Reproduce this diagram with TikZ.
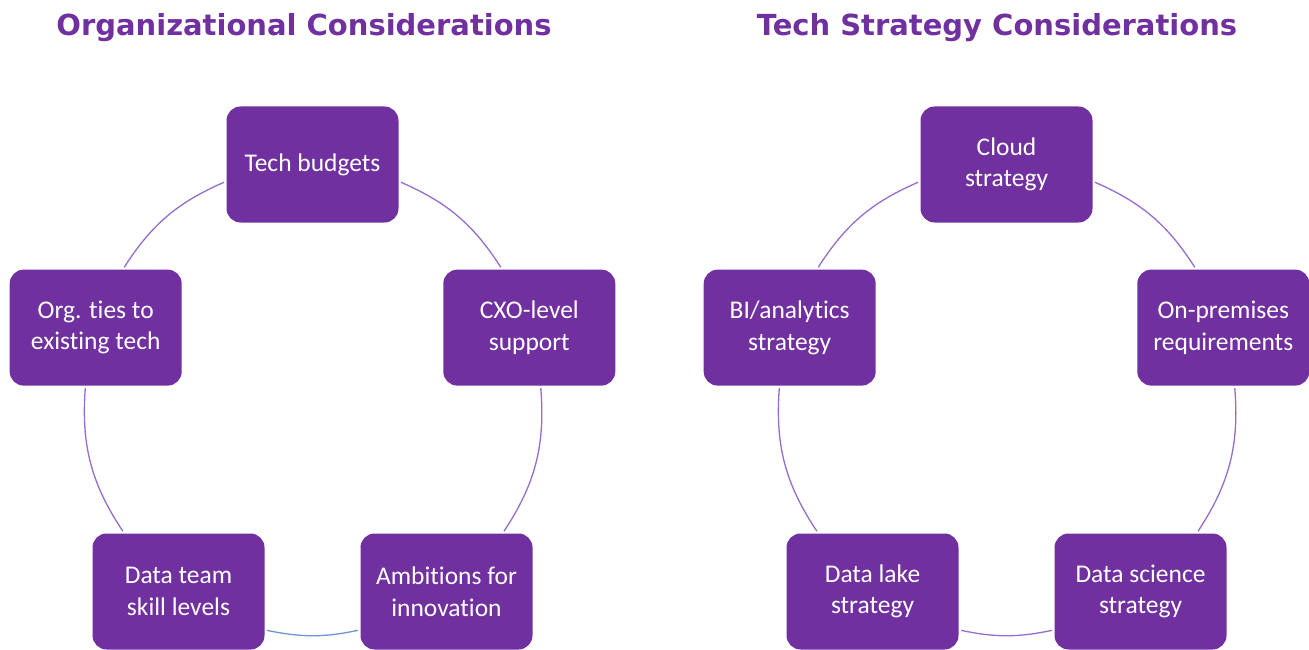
\documentclass[tikz,border=0pt]{standalone}
\usepackage{fontspec}
\setmainfont{Carlito}[Ligatures=NoCommon]
\newfontfamily\headfont{DejaVu Sans}
\usetikzlibrary{positioning}

\definecolor{orgpurple}{RGB}{112,48,160}
\definecolor{ringline}{RGB}{150,110,205}
\definecolor{ringblue}{RGB}{110,150,215}

\tikzset{
	box/.style={rectangle, rounded corners=8pt, fill=orgpurple, text=white, align=center,
		minimum width=3.44cm, minimum height=2.32cm, inner sep=0pt, outer sep=0pt,
		font=\fontsize{14.5}{18}\selectfont},
	heading/.style={anchor=base, text=orgpurple, font=\headfont\bfseries\fontsize{16.5}{20}\selectfont},
	ring/.style={draw=ringline, line width=0.75pt, shorten >=1.5pt, shorten <=1.5pt},
}

\begin{document}
\begin{tikzpicture}
	\useasboundingbox (0,0) rectangle (26.18,12.98);

	\node[heading] (orgtitle) at (6.08,12.26) {Organizational Considerations};
	\node[heading] (techtitle) at (19.94,12.26) {Tech Strategy Considerations};

	% organizational ring
	\node[box] (budget) at (6.25,9.69) {Tech budgets};
	\node[box] (cxo) at (10.586,6.428) {CXO-level\\support};
	\node[box] (ambition) at (8.93,1.15) {Ambitions for\\innovation};
	\node[box] (skills) at (3.57,1.15) {Data team\\skill levels};
	\node[box] (ties) at (1.914,6.428) {Org. ties to\\existing tech};

	\draw[ring] (budget.-11.5) to[bend left=17] (cxo.115.2);
	\draw[ring] (cxo.-79.5) to[bend left=19] (ambition.46.9);
	\draw[ring, draw=ringblue] (ambition.204.7) to[bend left=12] (skills.-24.7);
	\draw[ring] (skills.133.1) to[bend left=19] (ties.-100.5);
	\draw[ring] (ties.65) to[bend left=17] (budget.191.5);

	% tech strategy ring
	\node[box] (cloud) at (20.13,9.69) {Cloud\\strategy};
	\node[box] (onprem) at (24.466,6.428) {On-premises\\requirements};
	\node[box] (science) at (22.81,1.15) {Data science\\strategy};
	\node[box] (lake) at (17.45,1.15) {Data lake\\strategy};
	\node[box] (bi) at (15.794,6.428) {BI/analytics\\strategy};

	\draw[ring] (cloud.-11.5) to[bend left=17] (onprem.115.2);
	\draw[ring] (onprem.-79.5) to[bend left=19] (science.46.9);
	\draw[ring] (science.204.7) to[bend left=12] (lake.-24.7);
	\draw[ring] (lake.133.1) to[bend left=19] (bi.-100.5);
	\draw[ring] (bi.65) to[bend left=17] (cloud.191.5);
\end{tikzpicture}
\end{document}
